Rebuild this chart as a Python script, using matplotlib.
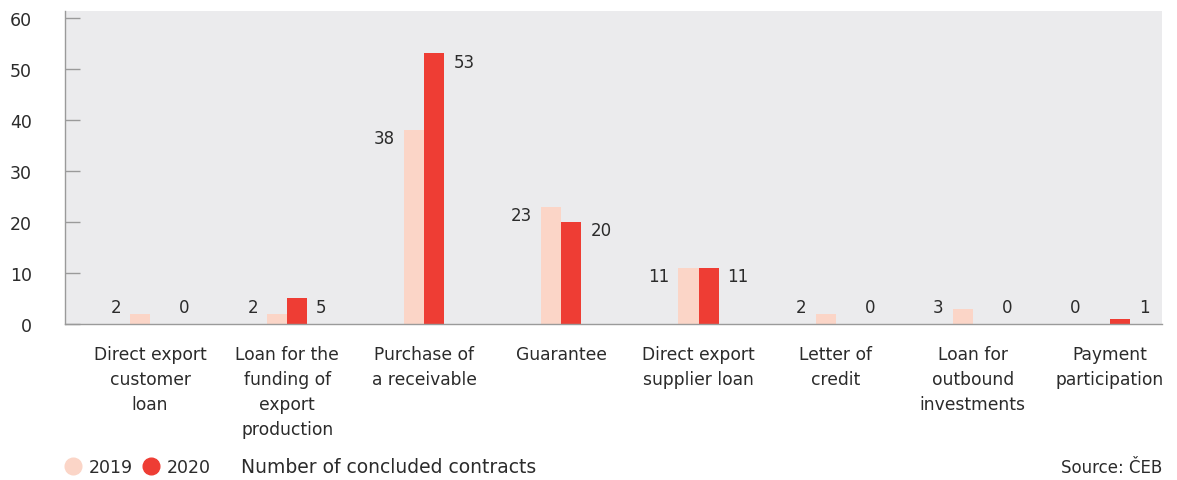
import numpy as np
import matplotlib.pyplot as plt
from matplotlib.lines import Line2D

plt.rcParams['font.family'] = ['DejaVu Sans']

categories = [
    "Direct export\ncustomer\nloan",
    "Loan for the\nfunding of\nexport\nproduction",
    "Purchase of\na receivable",
    "Guarantee",
    "Direct export\nsupplier loan",
    "Letter of\ncredit",
    "Loan for\noutbound\ninvestments",
    "Payment\nparticipation",
]
contracts_2019 = [2, 2, 38, 23, 11, 2, 3, 0]
contracts_2020 = [0, 5, 53, 20, 11, 0, 0, 1]
y_ticks = [0, 10, 20, 30, 40, 50, 60]

C_2019 = '#fbd5c7'
C_2020 = '#ee3d34'
BG = '#ebebed'
TXT = '#2b2b2b'
AXIS = '#9a9a9a'
FS = 12.3

fig = plt.figure(figsize=(11.77, 4.81), dpi=100)
ax = fig.add_axes([65 / 1177, 1 - 325 / 481, 1097 / 1177, 313 / 481])
ax.set_facecolor(BG)

x = np.arange(len(categories))
w = 0.146
ax.bar(x - w / 2, contracts_2019, width=w, color=C_2019, zorder=2)
ax.bar(x + w / 2, contracts_2020, width=w, color=C_2020, zorder=2)

# value labels: 2019 to the left of its bar, 2020 to the right,
# hanging just below the bar top (kept clear of the baseline)
for i in range(len(categories)):
    for val, side in ((contracts_2019[i], -1), (contracts_2020[i], 1)):
        ax.annotate(str(val), xy=(x[i] + side * w, max(val, 4.9)),
                    xytext=(side * 6.5, -6.0), textcoords='offset points',
                    ha='left' if side > 0 else 'right', va='center',
                    fontsize=12, color=TXT)

ax.set_xlim(-0.62, 7.38)
ax.set_ylim(0, 61.3)
ax.set_yticks(y_ticks)
ax.set_xticks(x)
ax.set_xticklabels(categories, fontsize=FS, color=TXT, linespacing=1.5,
                   va='top')
ax.tick_params(axis='x', length=0, pad=15)
ax.tick_params(axis='y', direction='in', length=11, width=1, color=AXIS,
               labelsize=12.5, labelcolor=TXT, pad=24)

for s in ('top', 'right'):
    ax.spines[s].set_visible(False)
for s in ('left', 'bottom'):
    ax.spines[s].set_color(AXIS)
    ax.spines[s].set_linewidth(1)

handles = [
    Line2D([], [], ls='', marker='o', markersize=12, color=C_2019),
    Line2D([], [], ls='', marker='o', markersize=12, color=C_2020),
]
fig.legend(handles, ['2019', '2020'], loc='center left',
           bbox_to_anchor=(64 / 1177, 1 - 468 / 481), ncol=2, frameon=False,
           fontsize=12.5, labelcolor=TXT, handlelength=1.0, handletextpad=0.45,
           columnspacing=0.5, borderpad=0, borderaxespad=0)
fig.text(241 / 1177, 1 - 468 / 481, "Number of concluded contracts",
         fontsize=13.5, color=TXT, va='center', ha='left')
fig.text(1162 / 1177, 1 - 468 / 481, "Source: ČEB",
         fontsize=12, color=TXT, va='center', ha='right')

fig.savefig('out.png', dpi=100)
